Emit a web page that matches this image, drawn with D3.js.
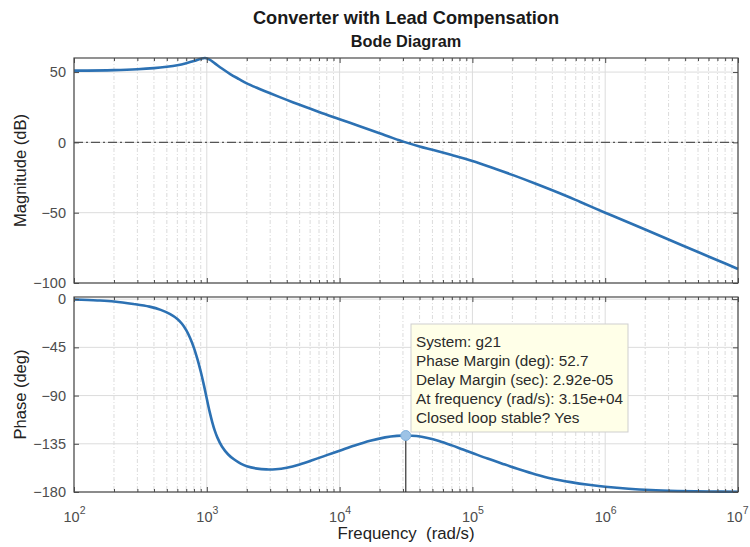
<!DOCTYPE html>
<html>
<head>
<meta charset="utf-8">
<script src="https://cdn.jsdelivr.net/npm/d3@7/dist/d3.min.js"></script>
<style>
  html, body { margin: 0; padding: 0; background: #fff; }
  svg { display: block; font-family: "Liberation Sans", Arial, sans-serif; }
</style>
</head>
<body>
<svg id="chart" width="750" height="547"></svg>
<script>
// Loop transfer function g21 (converter + lead compensator), frequency in rad/s
const magFreq = [100, 200, 300, 400, 500, 600, 700, 800, 900, 970, 1050, 1150, 1300, 1500, 1750, 2000, 2500, 3000, 4000, 5000, 7000, 10000, 14000, 20000, 25000, 31500, 40000, 50000, 70000, 100000, 150000, 200000, 300000, 450000, 650000, 1000000, 1500000, 2000000, 3000000, 5000000, 7000000, 10000000];
const magDb = [51.0, 51.4, 52.0, 52.8, 53.8, 54.9, 56.3, 57.8, 59.4, 60.0, 58.9, 56.2, 52.5, 48.6, 45.0, 42.0, 38.0, 34.9, 30.2, 26.7, 21.6, 16.5, 11.7, 6.5, 3.2, 0.0, -2.9, -5.3, -9.0, -13.2, -18.9, -23.1, -29.4, -36.0, -42.4, -50.0, -57.0, -62.0, -69.1, -78.0, -83.8, -90.0];

const phaseFreq = [100, 150, 200, 280, 370, 450, 530, 600, 650, 700, 750, 800, 850, 900, 950, 1000, 1050, 1100, 1150, 1200, 1300, 1450, 1600, 1800, 2000, 2400, 2800, 3300, 4000, 5000, 6300, 8000, 10000, 13000, 17000, 22000, 27000, 31500, 38000, 46000, 56000, 70000, 85000, 100000, 130000, 170000, 227000, 300000, 400000, 550000, 750000, 1000000, 1500000, 2200000, 3500000, 6000000, 10000000];
const phaseDeg = [-0.3, -1.2, -2.2, -4.5, -7, -10, -14, -18.5, -23, -29, -36.5, -45.5, -56, -67.5, -80, -93, -105, -115, -123, -129, -137.5, -145, -149.5, -153.5, -156, -158.2, -158.9, -158.7, -157.3, -154.3, -150.2, -145.6, -141.5, -136.6, -132.2, -129.0, -127.6, -127.3, -127.8, -129.6, -132.4, -136.5, -140.4, -143.6, -148.8, -153.8, -159.0, -163.6, -167.6, -170.8, -173.3, -175.1, -177.0, -178.2, -179.0, -179.5, -179.8];

const magTicks = [-100, -50, 0, 50];
const phaseTicks = [-180, -135, -90, -45, 0];
const decadeTicks = [2, 3, 4, 5, 6, 7];

// Stability margin readout at the gain crossover
const marginFreq = 31500;
const marginPhase = -127.3;
const marginLines = [
  "System: g21",
  "Phase Margin (deg): 52.7",
  "Delay Margin (sec): 2.92e-05",
  "At frequency (rad/s): 3.15e+04",
  "Closed loop stable? Yes"
];

const svg = d3.select("#chart");
const L = 74, R = 738;
const magTop = 58, magBot = 283;
const phTop = 297, phBot = 492;

const x = d3.scaleLog().domain([1e2, 1e7]).range([L, R]);
const yMag = d3.scaleLinear().domain([-100, 60]).range([magBot, magTop]);
const yPh = d3.scaleLinear().domain([-180, 2]).range([phBot, phTop]);

const majors = decadeTicks.map(e => Math.pow(10, e));
const minors = [];
for (let e = 2; e < 7; e++) for (let k = 2; k <= 9; k++) minors.push(k * Math.pow(10, e));

const lineColor = "#2c71b3";
const axisColor = "#4a4a4a";
const tickFont = "14.5px";

function panel(y, top, bot, yTicks, zeroLine) {
  const g = svg.append("g");
  // minor grid
  g.selectAll(".mg").data(minors).enter().append("line")
    .attr("x1", d => x(d)).attr("x2", d => x(d))
    .attr("y1", top).attr("y2", bot)
    .attr("stroke", "#d2d2d2").attr("stroke-width", 0.8)
    .attr("stroke-dasharray", "4,2,1,2");
  // major grid
  g.selectAll(".Mg").data(majors).enter().append("line")
    .attr("x1", d => x(d)).attr("x2", d => x(d))
    .attr("y1", top).attr("y2", bot)
    .attr("stroke", "#dcdcdc").attr("stroke-width", 1);
  g.selectAll(".Hg").data(yTicks).enter().append("line")
    .attr("x1", L).attr("x2", R)
    .attr("y1", d => y(d)).attr("y2", d => y(d))
    .attr("stroke", "#dcdcdc").attr("stroke-width", 1);
  if (zeroLine !== null) {
    g.append("line")
      .attr("x1", L).attr("x2", R)
      .attr("y1", y(zeroLine)).attr("y2", y(zeroLine))
      .attr("stroke", "#555").attr("stroke-width", 1.1)
      .attr("stroke-dasharray", "9,3,2,3");
  }
  return g;
}

function frame(y, top, bot, yTicks) {
  const g = svg.append("g");
  // left axis with inward ticks and labels
  const ay = g.append("g").attr("transform", `translate(${L},0)`)
    .call(d3.axisLeft(y).tickValues(yTicks).tickSize(-5).tickPadding(8).tickFormat(d3.format("d")));
  ay.select(".domain").remove();
  ay.selectAll(".tick line").attr("stroke", axisColor);
  ay.selectAll("text").attr("fill", "#4d4d4d").style("font-size", tickFont)
    .style("font-family", "'Liberation Sans', Arial, sans-serif");
  // right-side ticks
  const ar = g.append("g").attr("transform", `translate(${R},0)`)
    .call(d3.axisRight(y).tickValues(yTicks).tickSize(-5).tickFormat(""));
  ar.select(".domain").remove();
  ar.selectAll(".tick line").attr("stroke", axisColor);
  // top and bottom tick rows
  [[top, d3.axisTop], [bot, d3.axisBottom]].forEach(([yy, ax]) => {
    const a1 = g.append("g").attr("transform", `translate(0,${yy})`)
      .call(ax(x).tickValues(majors).tickSize(-5).tickFormat(""));
    a1.select(".domain").remove();
    a1.selectAll(".tick line").attr("stroke", axisColor);
    const a2 = g.append("g").attr("transform", `translate(0,${yy})`)
      .call(ax(x).tickValues(minors).tickSize(-3).tickFormat(""));
    a2.select(".domain").remove();
    a2.selectAll(".tick line").attr("stroke", axisColor);
  });
  g.append("rect").attr("x", L).attr("y", top).attr("width", R - L).attr("height", bot - top)
    .attr("fill", "none").attr("stroke", axisColor).attr("stroke-width", 1.2);
}

const smooth = d3.curveCatmullRom.alpha(0.5);

// Magnitude panel
panel(yMag, magTop, magBot, magTicks, 0);
const magLine = d3.line().x(d => x(d[0])).y(d => yMag(d[1])).curve(smooth);
svg.append("path").datum(magFreq.map((f, i) => [f, magDb[i]]))
  .attr("d", magLine).attr("fill", "none").attr("stroke", lineColor)
  .attr("stroke-width", 2.6).attr("stroke-linejoin", "round");
frame(yMag, magTop, magBot, magTicks);

// Phase panel
panel(yPh, phTop, phBot, phaseTicks, null);
const phLine = d3.line().x(d => x(d[0])).y(d => yPh(d[1])).curve(smooth);
svg.append("path").datum(phaseFreq.map((f, i) => [f, phaseDeg[i]]))
  .attr("d", phLine).attr("fill", "none").attr("stroke", lineColor)
  .attr("stroke-width", 2.6).attr("stroke-linejoin", "round");
frame(yPh, phTop, phBot, phaseTicks);

// Decade labels under the phase panel (the last one is pulled in to stay on the canvas)
const xa = svg.append("g").attr("transform", `translate(0,${phBot})`)
  .call(d3.axisBottom(x).tickValues(majors).tickSize(0).tickFormat(""));
xa.select(".domain").remove();
xa.selectAll(".tick").each(function(d, i, nodes) {
  const last = i === nodes.length - 1;
  const t = d3.select(this).append("text")
    .attr("x", last ? 10 : 0).attr("y", 30)
    .attr("text-anchor", last ? "end" : "middle")
    .attr("fill", "#4d4d4d").style("font-size", tickFont);
  t.append("tspan").text("10");
  t.append("tspan").attr("dy", -8).style("font-size", "10.5px").text(Math.round(Math.log10(d)));
});

// Margin marker and readout
const mx = x(marginFreq), my = yPh(marginPhase);
svg.append("line").attr("x1", mx).attr("x2", mx).attr("y1", my).attr("y2", phBot)
  .attr("stroke", "#333").attr("stroke-width", 1.2);
svg.append("circle").attr("cx", mx).attr("cy", my).attr("r", 5)
  .attr("fill", "#9dc3e6").attr("stroke", "#7fb0dc").attr("stroke-width", 1);
const tip = svg.append("g");
tip.append("rect").attr("x", 411).attr("y", 324).attr("width", 217).attr("height", 108)
  .attr("fill", "#ffffe8").attr("stroke", "#cfcfcf").attr("stroke-width", 1);
tip.selectAll("text").data(marginLines).enter().append("text")
  .attr("x", 416).attr("y", (d, i) => 347 + i * 19)
  .attr("fill", "#2b2b2b").style("font-size", "15.3px").text(d => d);

// Titles and axis labels
svg.append("text").attr("x", 406).attr("y", 24).attr("text-anchor", "middle")
  .style("font-size", "18.2px").style("font-weight", "bold").attr("fill", "#1a1a1a")
  .text("Converter with Lead Compensation");
svg.append("text").attr("x", 406).attr("y", 47).attr("text-anchor", "middle")
  .style("font-size", "16.3px").style("font-weight", "bold").attr("fill", "#1a1a1a")
  .text("Bode Diagram");
svg.append("text").attr("x", 406).attr("y", 539).attr("text-anchor", "middle")
  .style("font-size", "16.8px").attr("fill", "#222").attr("xml:space", "preserve")
  .text("Frequency  (rad/s)");
svg.append("text").attr("transform", `translate(26,${(magTop + magBot) / 2}) rotate(-90)`)
  .attr("text-anchor", "middle").style("font-size", "16.5px").attr("fill", "#222")
  .text("Magnitude (dB)");
svg.append("text").attr("transform", `translate(26,${(phTop + phBot) / 2}) rotate(-90)`)
  .attr("text-anchor", "middle").style("font-size", "16.5px").attr("fill", "#222")
  .text("Phase (deg)");
</script>
</body>
</html>
